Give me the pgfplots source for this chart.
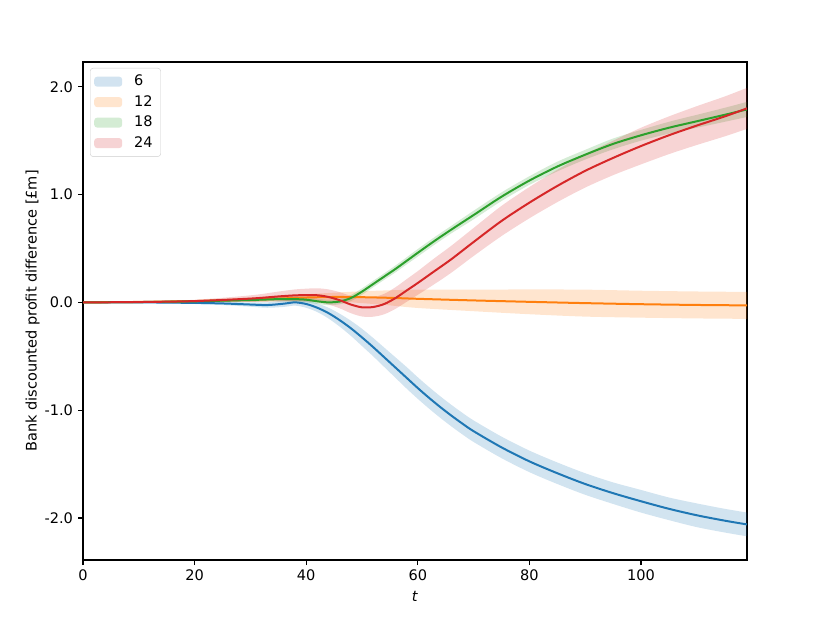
\documentclass[border=0pt]{standalone}
\usepackage{fontspec}
\setmainfont{DejaVu Sans}
\usepackage{pgfplots}
\usepackage{pgfplotstable}
\pgfplotsset{compat=1.18}
\usepgfplotslibrary{fillbetween}
\definecolor{c6}{HTML}{1F77B4}
\definecolor{c12}{HTML}{FF7F0E}
\definecolor{c18}{HTML}{2CA02C}
\definecolor{c24}{HTML}{D62728}

\pgfplotstableread{
t m lo hi
0 0 0 0
10 0 -0.005 0.005
20 -0.005 -0.015 0.005
25 -0.01 -0.025 0.005
30 -0.02 -0.04 0.0
33 -0.025 -0.05 0.0
36 -0.012 -0.042 0.018
38 0.0 -0.03 0.03
40 -0.015 -0.05 0.02
42 -0.05 -0.09 -0.01
44 -0.10 -0.15 -0.05
46 -0.165 -0.225 -0.105
48 -0.24 -0.31 -0.17
50 -0.325 -0.405 -0.245
52 -0.415 -0.50 -0.33
54 -0.51 -0.60 -0.42
56 -0.605 -0.70 -0.51
58 -0.70 -0.80 -0.60
60 -0.795 -0.895 -0.695
62 -0.885 -0.985 -0.785
64 -0.97 -1.07 -0.87
66 -1.05 -1.15 -0.95
68 -1.125 -1.225 -1.025
70 -1.195 -1.295 -1.095
75 -1.345 -1.445 -1.245
80 -1.475 -1.575 -1.375
85 -1.585 -1.685 -1.485
90 -1.685 -1.785 -1.585
95 -1.77 -1.87 -1.67
100 -1.845 -1.95 -1.74
105 -1.915 -2.02 -1.81
110 -1.975 -2.085 -1.865
115 -2.025 -2.135 -1.915
119 -2.06 -2.17 -1.95
}\tsix

\pgfplotstableread{
t m lo hi
0 0 0 0
10 0.004 -0.001 0.009
20 0.012 0.002 0.022
30 0.025 0.005 0.045
35 0.035 0.01 0.06
40 0.045 0.015 0.075
45 0.05 0.01 0.09
50 0.048 -0.007 0.103
55 0.042 -0.028 0.112
60 0.033 -0.052 0.118
70 0.018 -0.082 0.118
80 0.005 -0.11 0.12
90 -0.007 -0.132 0.118
100 -0.017 -0.142 0.108
110 -0.024 -0.149 0.101
119 -0.028 -0.153 0.097
}\ttwelve

\pgfplotstableread{
t m lo hi
0 0 0 0
10 0.003 -0.001 0.007
20 0.01 0.002 0.018
30 0.022 0.007 0.037
35 0.03 0.01 0.05
38 0.03 0.005 0.055
40 0.025 0.0 0.05
42 0.01 -0.015 0.035
44 0.0 -0.025 0.025
46 0.008 -0.018 0.034
48 0.04 0.012 0.068
50 0.10 0.07 0.13
52 0.17 0.14 0.20
54 0.24 0.21 0.27
56 0.31 0.278 0.342
58 0.385 0.352 0.418
60 0.46 0.425 0.495
63 0.57 0.535 0.605
66 0.675 0.64 0.71
70 0.81 0.77 0.85
75 0.98 0.94 1.02
80 1.13 1.09 1.17
85 1.26 1.215 1.305
90 1.37 1.325 1.415
95 1.47 1.42 1.52
100 1.55 1.50 1.60
105 1.62 1.565 1.675
110 1.68 1.62 1.74
115 1.74 1.675 1.805
119 1.79 1.72 1.86
}\teighteen

\pgfplotstableread{
t m lo hi
0 0 0 0
10 0.003 -0.002 0.008
20 0.012 0.0 0.024
30 0.035 0.005 0.065
35 0.055 0.01 0.1
38 0.065 0.01 0.12
40 0.067 0.007 0.127
42 0.066 0.001 0.131
44 0.05 -0.02 0.12
46 0.02 -0.055 0.095
48 -0.02 -0.1 0.06
50 -0.046 -0.131 0.039
52 -0.043 -0.133 0.047
54 -0.015 -0.11 0.08
56 0.04 -0.06 0.14
58 0.11 0.005 0.215
60 0.18 0.07 0.29
63 0.29 0.17 0.41
66 0.40 0.275 0.525
70 0.56 0.43 0.69
75 0.755 0.615 0.895
80 0.925 0.78 1.07
85 1.08 0.93 1.23
90 1.22 1.065 1.375
95 1.34 1.18 1.50
100 1.45 1.28 1.62
105 1.55 1.375 1.725
110 1.64 1.46 1.82
115 1.725 1.54 1.91
119 1.80 1.61 1.99
}\ttwentyfour

\pgfplotsset{
  band/.style={fill=#1, fill opacity=0.2, draw=none,
    legend image code/.code={\fill[fill=#1, fill opacity=0.2, draw=none] (0bp,-5bp) rectangle (28bp,5bp);}},
  mline/.style={draw=#1, line width=2bp, smooth, forget plot},
  bnd/.style={draw=none, smooth, forget plot},
}

\begin{document}
\fontsize{14.6}{17.5}\selectfont
\begin{tikzpicture}
\begin{axis}[
  scale only axis,
  width=664bp, height=498bp,
  xmin=0, xmax=119, ymin=-2.39, ymax=2.23,
  xtick={0,20,40,60,80,100},
  ytick={-2,-1,0,1,2},
  yticklabels={-2.0,-1.0,0.0,1.0,2.0},
  /pgf/number format/assume math mode=true,
  tick align=outside, tick pos=left,
  major tick length=5bp,
  every tick/.style={black, line width=1.1bp},
  axis line style={black, line width=1.1bp},
  xlabel={\textit{t}},
  ylabel={Bank discounted profit difference [£m]},
  ylabel shift=-5bp,
  legend cell align=left,
  legend style={at={(0,1)}, anchor=north west, xshift=7bp, yshift=-6bp,
    draw=black!20, rounded corners=3bp, fill=white,
    font=\fontsize{14.6}{17.5}\selectfont, row sep=3.5bp, column sep=8bp,
    inner xsep=4bp, inner ysep=5bp,
    nodes={inner xsep=4bp, inner ysep=2bp}},
]
% 6
\addplot[bnd, name path=a6] table[x=t,y=hi]{\tsix};
\addplot[bnd, name path=b6] table[x=t,y=lo]{\tsix};
\addplot[band=c6] fill between[of=a6 and b6];
\addlegendentry{6}
\addplot[mline=c6] table[x=t,y=m]{\tsix};
% 12
\addplot[bnd, name path=a12] table[x=t,y=hi]{\ttwelve};
\addplot[bnd, name path=b12] table[x=t,y=lo]{\ttwelve};
\addplot[band=c12] fill between[of=a12 and b12];
\addlegendentry{12}
\addplot[mline=c12] table[x=t,y=m]{\ttwelve};
% 18
\addplot[bnd, name path=a18] table[x=t,y=hi]{\teighteen};
\addplot[bnd, name path=b18] table[x=t,y=lo]{\teighteen};
\addplot[band=c18] fill between[of=a18 and b18];
\addlegendentry{18}
\addplot[mline=c18] table[x=t,y=m]{\teighteen};
% 24
\addplot[bnd, name path=a24] table[x=t,y=hi]{\ttwentyfour};
\addplot[bnd, name path=b24] table[x=t,y=lo]{\ttwentyfour};
\addplot[band=c24] fill between[of=a24 and b24];
\addlegendentry{24}
\addplot[mline=c24] table[x=t,y=m]{\ttwentyfour};
\end{axis}
\path (current axis.south west) ++(-83bp,-63bp) rectangle ++(830bp,623bp);
\end{tikzpicture}
\end{document}
